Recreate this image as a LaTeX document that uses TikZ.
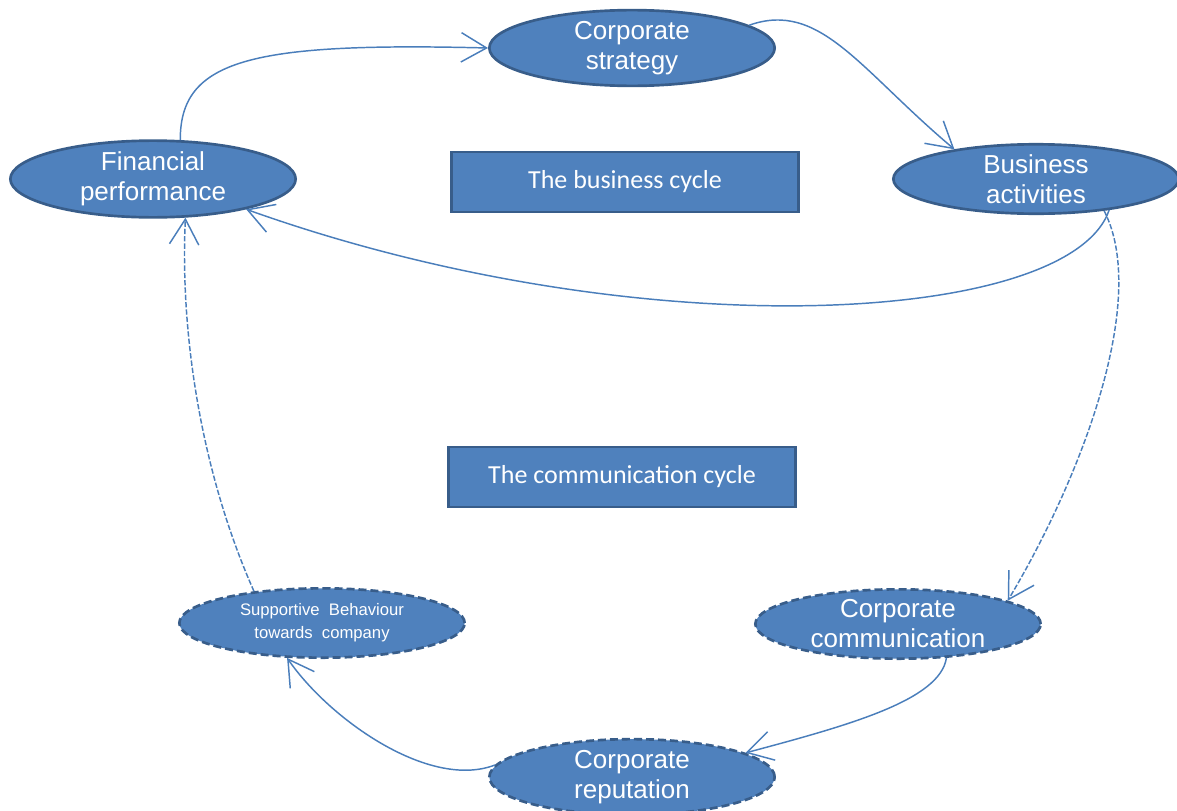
\documentclass[tikz,border=0pt]{standalone}
\usepackage{fontspec}
\setmainfont{Liberation Sans}
\newfontfamily\calibri{Carlito}
\usetikzlibrary{shapes.geometric,arrows.meta}
\definecolor{boxfill}{HTML}{4F81BD}
\definecolor{boxline}{HTML}{385D8A}
\definecolor{linkcol}{HTML}{4A7EBB}
\begin{document}
\begin{tikzpicture}[x=0.75pt,y=-0.75pt,
    oval/.style={ellipse,fill=boxfill,draw=boxline,line width=2pt,text=white,
      minimum width=214pt,minimum height=52pt,inner sep=0pt,align=center,
      font=\fontsize{19.5}{22.5}\selectfont},
    dashoval/.style={oval,dash pattern=on 6pt off 3pt},
    cycbox/.style={rectangle,fill=boxfill,draw=boxline,line width=2pt,text=white,
      minimum width=260pt,minimum height=45pt,font=\calibri\fontsize{19.5}{22}\selectfont},
    link/.style={draw=linkcol,line width=1.1pt,
      -{Straight Barb[length=19pt,width=22pt,line width=1.1pt]}}]
      \useasboundingbox (0,0) rectangle (1177,810);
      \draw
        (153,179) node[oval] (fp){Financial\\performance}
        (632,48) node[oval] (cs){Corporate\\strategy}
        (1036,179) node[oval] (ba){Business\\activities}
        (625,182) node[cycbox] (bc){The business cycle}
        (622,477) node[cycbox] (cc){The communication cycle}
        (322,623) node[dashoval,font=\fontsize{12.5}{17}\selectfont] (sb){Supportive~ Behaviour\\towards~ company}
        (898,624) node[dashoval] (com){Corporate\\communication}
        (632,777) node[dashoval] (cr){Corporate\\reputation};
      \begin{scope}[link]
        \draw (fp.55) .. controls (180,60) and (250,42) .. (cs.west);
        \draw (cs.11) .. controls (820,0) and (860,70) .. (ba.160);
        \draw (ba.-23) .. controls (1070,325) and (640,350) .. (fp.-18);
        \draw[dash pattern=on 4pt off 1.5pt] (ba.-25) .. controls (1150,300) and (1080,480) .. (com.12);
        \draw (com.-35) .. controls (940,700) and (850,725) .. (cr.12);
        \draw (cr.175) .. controls (430,790) and (330,720) .. (sb.-135);
        \draw[dash pattern=on 4pt off 1.5pt] (sb.155) .. controls (200,470) and (180,330) .. (fp.-50);
      \end{scope}
    \end{tikzpicture}
\end{document}
